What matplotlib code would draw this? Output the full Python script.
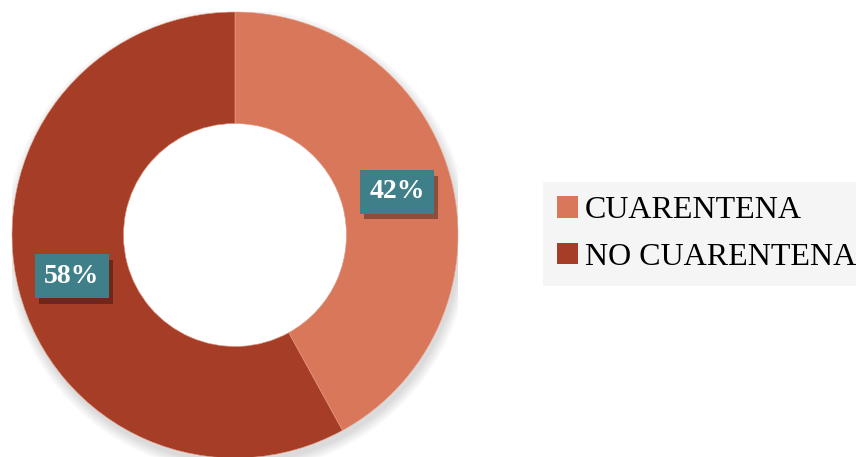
import matplotlib.pyplot as plt
import matplotlib.patheffects as pe
from matplotlib.patches import Patch, Circle

labels = ['CUARENTENA', 'NO CUARENTENA']
values = [42, 58]
colors = ['#D9775A', '#A63E27']
label_pos = [(0.726, 0.193), (-0.731, -0.184)]

W, H = 856, 457
fig = plt.figure(figsize=(W / 100, H / 100), dpi=100)
fig.patch.set_facecolor('white')

# donut centred at (235, 235) px, outer radius 223 px
cx, cy, r = 235, 235, 223
ax = fig.add_axes([(cx - r) / W, (H - cy - r) / H, 2 * r / W, 2 * r / H])
ax.set_axis_off()

# soft shadow under the ring
for i in range(12):
    ax.add_patch(Circle((0.01, -0.025), 1.0 + i * 0.004, facecolor='#000000',
                        alpha=0.012, edgecolor='none', zorder=0))

wedges, _ = ax.pie(values, colors=colors, startangle=90, counterclock=False,
                   radius=1.0, wedgeprops=dict(width=0.5, edgecolor='#e8a08a', linewidth=0.4))
for w in wedges:
    w.set_zorder(2)
# keep the hole clean
ax.add_patch(Circle((0, 0), 0.499, facecolor='white', edgecolor='none', zorder=1.5))
ax.set_xlim(-1, 1)
ax.set_ylim(-1, 1)
ax.set_aspect('auto')

for v, (x, y) in zip(values, label_pos):
    t = ax.annotate('%d%%' % v, (x, y), ha='center', va='center', fontsize=20,
                    fontweight='bold', family='Liberation Serif', color='white', zorder=4,
                    bbox=dict(boxstyle='square,pad=0.34', facecolor='#3E7F8A',
                              edgecolor='none', linewidth=0))
    t.get_bbox_patch().set_path_effects(
        [pe.SimplePatchShadow(offset=(3, -4), shadow_rgbFace='black', alpha=0.35), pe.Normal()])

handles = [Patch(facecolor=c, edgecolor='none') for c in colors]
leg = fig.legend(handles, labels, loc='upper left',
                 bbox_to_anchor=(543 / W, 1 - 182 / H), borderaxespad=0,
                 frameon=True, fancybox=False, prop={'family': 'Liberation Serif', 'size': 23},
                 handlelength=0.65, handleheight=0.65, handletextpad=0.2,
                 labelspacing=0.55, borderpad=0.45)
leg.get_frame().set_facecolor('#f5f5f5')
leg.get_frame().set_edgecolor('none')
leg.get_frame().set_alpha(1)

fig.savefig('out.png', dpi=100)
